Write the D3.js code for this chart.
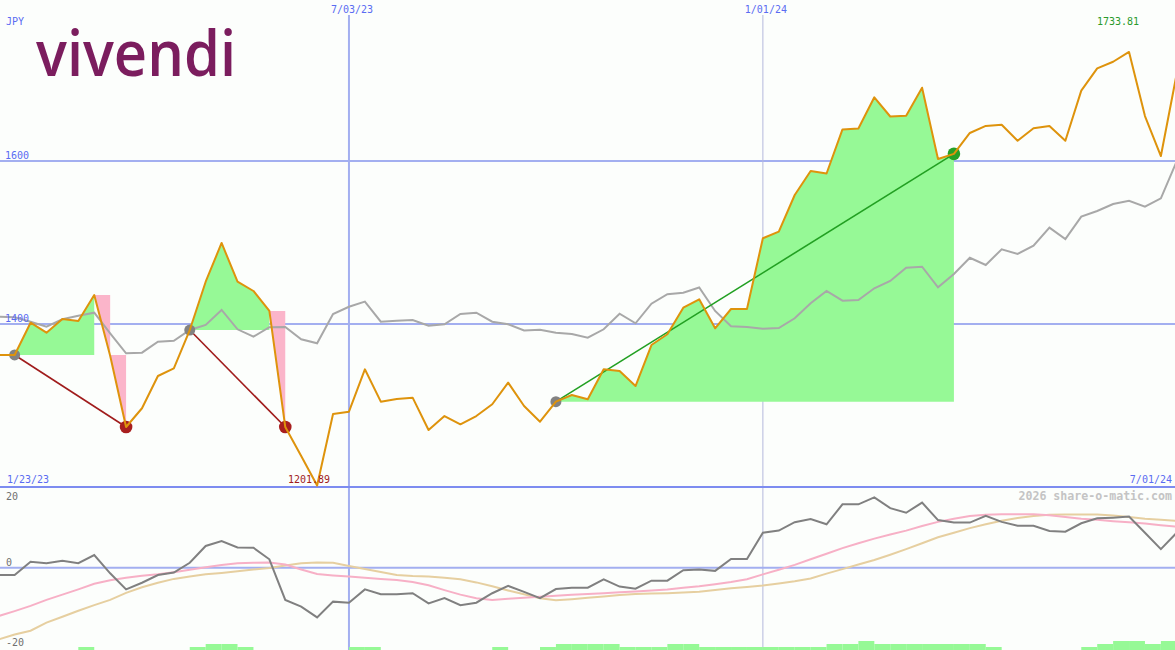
<!DOCTYPE html>
<html><head><meta charset="utf-8">
<script src="https://cdn.jsdelivr.net/npm/d3@7"></script>
<style>html,body{margin:0;padding:0;background:#fcfefc;} svg{display:block;}</style>
</head><body><svg id="c" width="1175" height="650"></svg>
<script>
// ---- data ----
const weekStart = "2023-01-23", weekEnd = "2024-07-01";
const price = [1362,1362,1362,1401.6,1389.3,1406.1,1403.7,1435.6,1361,1273.6,1296.6,1336.2,1345.6,1392.6,1451.9,1499.4,1451.9,1440.5,1416,1273.6,1238,1201.89,1289.6,1292.4,1344.4,1304.7,1308,1309.6,1269.9,1287.1,1276.9,1287.1,1301.5,1328,1299.4,1280.1,1304.7,1312.9,1307.6,1344.4,1342.3,1323.9,1374.2,1387.4,1420,1430.3,1394.7,1418.4,1418.4,1505.2,1513.3,1558.3,1587.7,1584.7,1638.7,1639.9,1678.2,1654.6,1655.6,1689.9,1602.5,1608.8,1634.4,1643,1644.5,1624.9,1640.1,1643,1624.9,1686.3,1713.7,1721.8,1733.81,1655.2,1606.1,1707.6];
const average = [1409,1409,1408.2,1402.8,1396.7,1405.8,1410.2,1413.9,1388.6,1364,1364.8,1378.3,1379.5,1392.6,1398.8,1417.2,1393.5,1384.4,1396,1396.3,1381.2,1376.3,1412.3,1421.2,1427.4,1402.8,1404,1404.9,1397.9,1399.6,1412.3,1413.9,1402.8,1399.6,1392,1393,1389.3,1387.7,1383.2,1393.5,1412.6,1400.9,1424.9,1436.6,1438.3,1444.8,1416,1397.2,1396.3,1394.2,1395.1,1407,1425.4,1440.5,1428.6,1429.4,1443.8,1452.8,1469.1,1470.3,1445,1461.3,1481.3,1472.4,1491.7,1485.9,1496.1,1518.2,1504.3,1531.7,1538.7,1547.2,1551.3,1543.9,1554.2,1600];
const oscMain = [-2.1,-2.1,-2.1,1.7,1.3,2.0,1.3,3.6,-1.6,-6.2,-4.3,-2.1,-1.4,1.4,6.2,7.6,5.8,5.7,2.4,-9.2,-11.1,-14.2,-9.7,-10,-6.2,-7.6,-7.6,-7.3,-10.2,-8.7,-10.7,-10,-7.3,-5.2,-6.9,-8.7,-6.1,-5.7,-5.7,-3.3,-5.4,-6,-3.7,-3.7,-0.7,-0.5,-0.9,2.5,2.5,10,10.6,13,13.9,12.4,18.1,18.1,20.1,17,15.7,18.6,13.6,12.9,12.9,14.8,13.1,12,12,10.5,10.3,12.7,14.1,14.3,14.6,10,5.3,10];
const oscPink = [-14.2,-13.8,-12.4,-10.9,-9.2,-7.7,-6.2,-4.6,-3.6,-2.9,-2.3,-1.9,-1.3,-0.6,0.1,0.8,1.3,1.4,1.5,0.9,-0.5,-1.8,-2.2,-2.5,-2.9,-3.2,-3.5,-4.1,-5,-6.4,-7.7,-8.7,-9.2,-8.9,-8.6,-8.3,-8,-7.7,-7.5,-7.3,-7,-6.8,-6.5,-6.2,-5.7,-5.3,-4.7,-4.1,-3.3,-1.9,-0.6,0.8,2.4,4,5.6,7,8.3,9.5,10.6,11.9,13.1,14,14.8,15.1,15.3,15.3,15.3,15,14.5,14,13.7,13.3,13,12.6,12.1,11.7];
const oscTan = [-20.9,-20.5,-19.1,-18,-15.7,-14,-12.3,-10.7,-9.2,-7.2,-5.6,-4.3,-3.2,-2.5,-1.9,-1.5,-1,-0.5,-0.1,0.6,1.3,1.5,1.4,0.5,-0.4,-1.2,-2.1,-2.4,-2.5,-2.9,-3.3,-4.2,-5.3,-6.5,-7.6,-8.7,-9.3,-9,-8.6,-8.2,-7.8,-7.5,-7.4,-7.3,-7.1,-6.9,-6.4,-5.9,-5.5,-5.1,-4.5,-3.9,-3.1,-1.7,-0.4,0.9,2.2,3.7,5.3,7,8.7,10,11.3,12.4,13.4,14.2,14.8,15.1,15.2,15.2,15.2,14.9,14.5,14,13.7,13.4];
const barLevels = [0,0,0,0,0,0,1,0,0,0,0,0,0,1,2,2,1,0,0,0,0,0,0,1,1,0,0,0,0,0,0,0,1,0,0,1,2,2,2,2,1,1,1,2,2,1,1,1,1,1,1,1,1,2,2,3,2,2,2,2,2,2,2,1,0,0,0,0,0,1,2,3,3,2,3,0];
const tradeEntry = ["2023-02-06","2023-04-24","2023-10-02"];
const tradeExit  = ["2023-03-27","2023-06-05","2024-03-25"];
const priceTicks = [1600, 1400];
const dateTicks = ["2023-07-03","2024-01-01"];
const dateTickLabels = ["7/03/23","1/01/24"];
const oscTicks = [20, 0, -20];
const currency = "JPY";
const startLabel = "1/23/23", endLabel = "7/01/24";
const watermark = "2026 share-o-matic.com";
const brand = "vivendi";

// ---- setup ----
const W = 1175, H = 650;
const parse = d3.utcParse("%Y-%m-%d");
const dates = d3.utcMonday.range(parse(weekStart), d3.utcDay.offset(parse(weekEnd), 1));
const x = d3.scaleUtc().domain([parse(weekStart), parse(weekEnd)]).range([-17.2, 1176.8]);
const y = d3.scaleLinear().domain([1200, 1600]).range([487, 161]);
const yo = d3.scaleLinear().domain([-20, 20]).range([637.7, 497.7]);
const yb = d3.scaleLinear().domain([0, 3]).range([650, 641]);
const svg = d3.select("#c");
const mono = "'DejaVu Sans Mono', monospace";
const idxOf = s => dates.findIndex(d => +d === +parse(s));

svg.append("rect").attr("width", W).attr("height", H).attr("fill", "#fcfefc");

// logo
svg.append("text").attr("x", 36).attr("y", 76).text(brand)
  .attr("font-family", "'Open Sans', Lato, sans-serif").attr("font-weight", 600)
  .attr("font-size", 63).attr("textLength", 200).attr("lengthAdjust", "spacingAndGlyphs")
  .attr("fill", "#7b1d5e");

// grid
svg.selectAll("line.hg").data(priceTicks).join("line")
  .attr("x1", 0).attr("x2", W).attr("y1", d => y(d)).attr("y2", d => y(d))
  .attr("stroke", "#a3aff0").attr("stroke-width", 2);
svg.selectAll("line.vg").data(dateTicks).join("line")
  .attr("x1", d => x(parse(d))).attr("x2", d => x(parse(d)))
  .attr("y1", 15).attr("y2", H)
  .attr("stroke", d => parse(d).getUTCMonth() === 0 ? "#b4b8dc" : "#a3aff0")
  .attr("stroke-width", d => parse(d).getUTCMonth() === 0 ? 1 : 2);
svg.append("line").attr("x1", 0).attr("x2", W).attr("y1", yo(0)).attr("y2", yo(0))
  .attr("stroke", "#a3aff0").attr("stroke-width", 2);
svg.append("line").attr("x1", 0).attr("x2", W).attr("y1", 487).attr("y2", 487)
  .attr("stroke", "#7d8cf0").attr("stroke-width", 2);

// trade fills
const trades = tradeEntry.map((e, i) => ({ e: idxOf(e), x: idxOf(tradeExit[i]) }));
const poly = pts => "M" + pts.map(p => p.join(",")).join("L") + "Z";
const gFill = svg.append("g");
trades.forEach(t => {
  const E = price[t.e], yE = y(E);
  let a = t.x;
  for (let k = t.e; k < t.x; k++) { if (price[k + 1] < E) { a = k; break; } }
  const gp = [];
  for (let k = t.e; k <= a; k++) gp.push([x(dates[k]), y(price[k])]);
  gp.push([x(dates[a]), yE], [x(dates[t.e]), yE]);
  gFill.append("path").attr("d", poly(gp)).attr("fill", "#96f996");
  if (a < t.x) {
    const pp = [];
    for (let k = a; k <= t.x; k++) pp.push([x(dates[k]), y(price[k])]);
    pp.push([x(dates[t.x]), yE], [x(dates[a + 1]), yE], [x(dates[a + 1]), y(price[a])]);
    gFill.append("path").attr("d", poly(pp)).attr("fill", "#fbb5ca");
  }
});

// lines
const lineMain = d3.line().x((d, i) => x(dates[i])).y(d => y(d));
svg.append("path").attr("d", lineMain(average)).attr("fill", "none")
  .attr("stroke", "#a8a8a8").attr("stroke-width", 2);

trades.forEach(t => {
  const win = price[t.x] >= price[t.e];
  svg.append("line")
    .attr("x1", x(dates[t.e])).attr("y1", y(price[t.e]))
    .attr("x2", x(dates[t.x])).attr("y2", y(price[t.x]))
    .attr("stroke", win ? "#22a022" : "#a01c1c").attr("stroke-width", 1.6);
  svg.append("circle").attr("cx", x(dates[t.e])).attr("cy", y(price[t.e])).attr("r", 5.5).attr("fill", "#828282");
  svg.append("circle").attr("cx", x(dates[t.x])).attr("cy", y(price[t.x])).attr("r", 6.3)
    .attr("fill", win ? "#26a026" : "#a81e1e");
});

svg.append("path").attr("d", lineMain(price)).attr("fill", "none")
  .attr("stroke", "#de930c").attr("stroke-width", 2).attr("stroke-linejoin", "round");

// bottom panel
const lineOsc = d3.line().x((d, i) => x(dates[i])).y(d => yo(d));
svg.append("path").attr("d", lineOsc(oscTan)).attr("fill", "none").attr("stroke", "#e6cfa0").attr("stroke-width", 2);
svg.append("path").attr("d", lineOsc(oscPink)).attr("fill", "none").attr("stroke", "#f7b0c6").attr("stroke-width", 2);
svg.append("path").attr("d", lineOsc(oscMain)).attr("fill", "none").attr("stroke", "#808080").attr("stroke-width", 2);

svg.selectAll("rect.bar").data(barLevels.map((v, i) => ({ v, i })).filter(d => d.v > 0 && d.i < dates.length - 1))
  .join("rect")
  .attr("x", d => x(dates[d.i])).attr("width", d => x(dates[d.i + 1]) - x(dates[d.i]))
  .attr("y", d => yb(d.v)).attr("height", d => yb(0) - yb(d.v))
  .attr("fill", "#96f996");

// texts
const txt = (s, xx, yy, col, anchor, size, weight) => svg.append("text").text(s)
  .attr("x", xx).attr("y", yy).attr("fill", col).attr("text-anchor", anchor || "start")
  .attr("font-family", mono).attr("font-size", size || 10).attr("font-weight", weight || "normal");
const blue = "#5a6cf2";
txt(currency, 6, 25, blue);
dateTicks.forEach((d, i) => txt(dateTickLabels[i], x(parse(d)) + 3, 13, blue, "middle"));
priceTicks.forEach(v => txt(String(v), 5, y(v) - 2, blue));
txt(startLabel, 7, 483, blue);
txt(endLabel, 1172, 483, blue, "end");
const iMax = d3.maxIndex(price), iMin = d3.minIndex(price);
txt(price[iMax].toFixed(2), x(dates[iMax]) + 10, 25, "#2a9a2a", "end");
txt(price[iMin].toFixed(2), x(dates[iMin]) + 13, 483, "#a01c1c", "end");
oscTicks.forEach(v => txt(String(v), 6, v === 20 ? 500 : (v === 0 ? yo(0) - 2 : 646), "#707070"));
txt(watermark, 1172, 500, "#c4c4c4", "end", 11.6, "bold");
</script></body></html>
